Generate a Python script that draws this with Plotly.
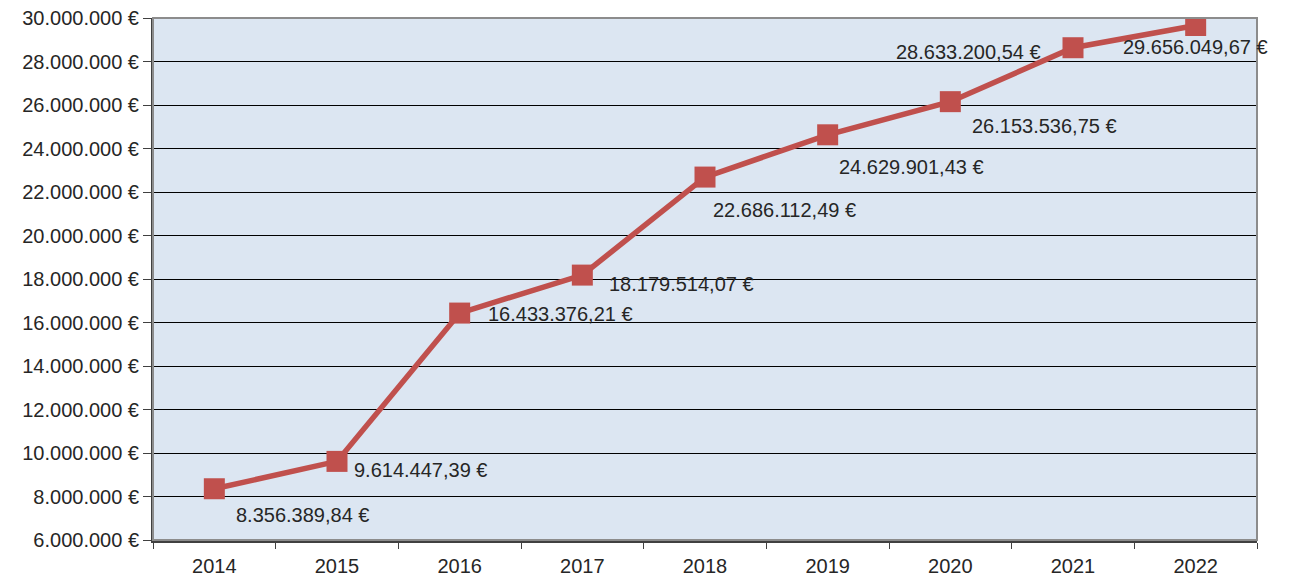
import plotly.graph_objects as go

years = ["2014", "2015", "2016", "2017", "2018", "2019", "2020", "2021", "2022"]
values = [8356389.84, 9614447.39, 16433376.21, 18179514.07, 22686112.49,
          24629901.43, 26153536.75, 28633200.54, 29656049.67]
labels = ["8.356.389,84 €", "9.614.447,39 €", "16.433.376,21 €", "18.179.514,07 €",
          "22.686.112,49 €", "24.629.901,43 €", "26.153.536,75 €", "28.633.200,54 €",
          "29.656.049,67 €"]
y_tickvals = [6e6, 8e6, 10e6, 12e6, 14e6, 16e6, 18e6, 20e6, 22e6, 24e6, 26e6, 28e6, 30e6]
y_ticktext = ["6.000.000 €", "8.000.000 €", "10.000.000 €", "12.000.000 €", "14.000.000 €",
              "16.000.000 €", "18.000.000 €", "20.000.000 €", "22.000.000 €", "24.000.000 €",
              "26.000.000 €", "28.000.000 €", "30.000.000 €"]

# label placement (pixel offsets from the point)
lab_anchor = ["left", "left", "left", "left", "left", "left", "left", "right", "left"]
lab_dx = [20, 15, 26, 25, 6, 9, 20, -30, -75]
lab_dy = [-26, -9, -1, -9, -33, -32, -24, -4, -22]

FONT = "Liberation Sans, Arial, sans-serif"
FS = 20
fig = go.Figure()
fig.add_trace(go.Scatter(
    x=years, y=values, mode="lines+markers",
    line=dict(color="#c0504d", width=5.5),
    marker=dict(symbol="square", size=21, color="#c0504d"),
    hoverinfo="x+y", showlegend=False,
))
for i, (y, t, a, dx, dy) in enumerate(zip(values, labels, lab_anchor, lab_dx, lab_dy)):
    fig.add_annotation(x=i, y=y, text=t, showarrow=False, xanchor=a, yanchor="middle",
                       xshift=dx, yshift=dy, font=dict(family=FONT, size=FS, color="#262626"))

fig.add_shape(type="rect", xref="paper", yref="paper", x0=0, y0=0, x1=1, y1=1,
              line=dict(color="#8c8c8c", width=2), layer="above")

fig.update_layout(
    width=1293, height=578,
    margin=dict(l=153, r=36, t=18, b=38),
    paper_bgcolor="white", plot_bgcolor="#dce6f2",
    font=dict(family=FONT, size=FS, color="#262626"),
)
fig.update_xaxes(type="category", range=[-0.5, 8.5], showgrid=False, automargin=False,
                 showline=True, linecolor="#404040", linewidth=2.5,
                 ticks="outside", tickson="boundaries", ticklen=6, tickcolor="#404040",
                 ticklabelstandoff=6, tickfont=dict(size=FS))
fig.update_yaxes(range=[6e6, 30e6], tickvals=y_tickvals, ticktext=y_ticktext, automargin=False,
                 showgrid=True, gridcolor="#000000", gridwidth=1, zeroline=False,
                 showline=True, linecolor="#404040", linewidth=2,
                 ticks="outside", ticklen=8, tickcolor="#404040",
                 tickfont=dict(size=FS))

# remove the default 8px page margin so the figure sits at the window's top-left corner
fig.write_html("out.html", config={"displayModeBar": False},
               post_script="document.body.style.margin='0';")
